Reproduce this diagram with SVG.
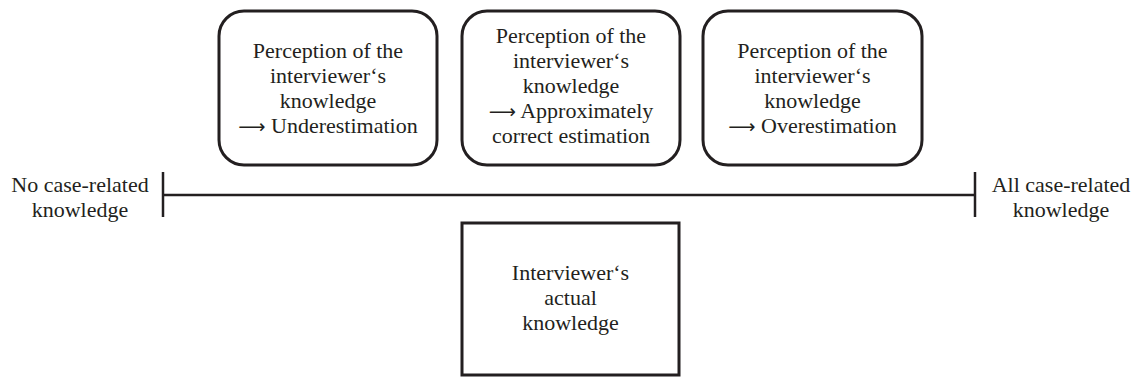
<svg xmlns="http://www.w3.org/2000/svg" width="1135" height="379" viewBox="0 0 1135 379">
<style>
text{font-family:"Liberation Serif",serif;font-size:22px;fill:#231f20;text-anchor:middle}
.ar{font-family:"Liberation Serif","DejaVu Sans",sans-serif;font-size:19px}
.rb{fill:#fff;stroke:#231f20;stroke-width:3}
.ln{stroke:#231f20;stroke-width:2.5;fill:none}
</style>
<rect width="1135" height="379" fill="#fff"/>
<g id="connectors">
<line class="ln" x1="163" y1="195" x2="975" y2="195"/>
<line class="ln" x1="163" y1="172" x2="163" y2="217"/>
<line class="ln" x1="975" y1="172" x2="975" y2="217"/>
</g>
<g id="box1">
<rect class="rb" x="219" y="11" width="218" height="154" rx="25"/>
<text x="328" y="58">Perception of the</text>
<text x="328" y="83">interviewer‘s</text>
<text x="328" y="108">knowledge</text>
<text x="328" y="133"><tspan class="ar">⟶</tspan> Underestimation</text>
</g>
<g id="box2">
<rect class="rb" x="462" y="11" width="218" height="154" rx="25"/>
<text x="571" y="43">Perception of the</text>
<text x="571" y="68">interviewer‘s</text>
<text x="571" y="93">knowledge</text>
<text x="571" y="118"><tspan class="ar">⟶</tspan> Approximately</text>
<text x="571" y="143">correct estimation</text>
</g>
<g id="box3">
<rect class="rb" x="703" y="11" width="219" height="154" rx="25"/>
<text x="812.5" y="58">Perception of the</text>
<text x="812.5" y="83">interviewer‘s</text>
<text x="812.5" y="108">knowledge</text>
<text x="812.5" y="133"><tspan class="ar">⟶</tspan> Overestimation</text>
</g>
<g id="left-label">
<text x="80" y="192">No case-related</text>
<text x="80" y="217">knowledge</text>
</g>
<g id="right-label">
<text x="1061" y="192">All case-related</text>
<text x="1061" y="217">knowledge</text>
</g>
<g id="actual">
<rect class="rb" x="462" y="223" width="217" height="152" stroke-width="2.5"/>
<text x="570.5" y="280">Interviewer‘s</text>
<text x="570.5" y="305">actual</text>
<text x="570.5" y="330">knowledge</text>
</g>
</svg>
